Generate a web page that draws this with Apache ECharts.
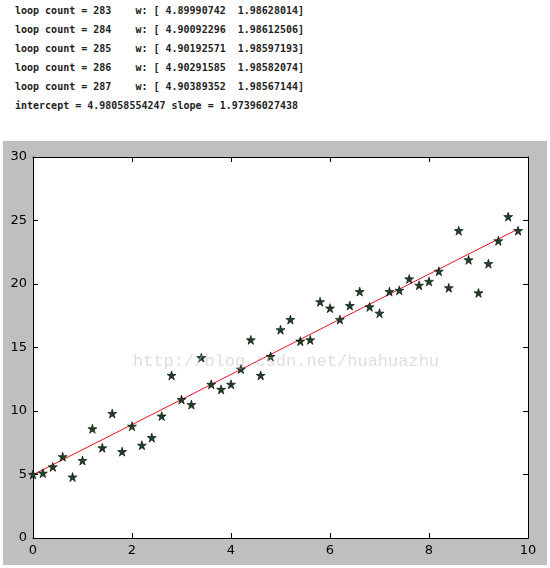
<!DOCTYPE html>
<html>
<head>
<meta charset="utf-8">
<script src="https://cdn.jsdelivr.net/npm/echarts@6/dist/echarts.min.js"></script>
<style>
  body { margin: 0; background: #fff; width: 550px; height: 568px; position: relative; overflow: hidden; }
  #log { position: absolute; left: 15px; top: 1px; font-family: "DejaVu Sans Mono", monospace; font-size: 10px; font-weight: bold; color: #222; line-height: 19px; white-space: pre; }
  #chart { position: absolute; left: 3px; top: 141px; width: 544px; height: 424px; }
</style>
</head>
<body>
<div id="log"></div>
<div id="chart"></div>
<script>
// 控制台输出
var logLines = [
    "loop count = 283    w: [ 4.89990742  1.98628014]",
    "loop count = 284    w: [ 4.90092296  1.98612506]",
    "loop count = 285    w: [ 4.90192571  1.98597193]",
    "loop count = 286    w: [ 4.90291585  1.98582074]",
    "loop count = 287    w: [ 4.90389352  1.98567144]",
    "intercept = 4.98058554247 slope = 1.97396027438"
];

// 散点数据
var xValues = [0, 0.2, 0.4, 0.6, 0.8, 1.0, 1.2, 1.4, 1.6, 1.8,
               2.0, 2.2, 2.4, 2.6, 2.8, 3.0, 3.2, 3.4, 3.6, 3.8,
               4.0, 4.2, 4.4, 4.6, 4.8, 5.0, 5.2, 5.4, 5.6, 5.8,
               6.0, 6.2, 6.4, 6.6, 6.8, 7.0, 7.2, 7.4, 7.6, 7.8,
               8.0, 8.2, 8.4, 8.6, 8.8, 9.0, 9.2, 9.4, 9.6, 9.8];
var yValues = [5.0, 5.1, 5.6, 6.4, 4.8, 6.1, 8.6, 7.1, 9.8, 6.8,
               8.8, 7.3, 7.9, 9.6, 12.8, 10.9, 10.5, 14.2, 12.1, 11.7,
               12.1, 13.3, 15.6, 12.8, 14.3, 16.4, 17.2, 15.5, 15.6, 18.6,
               18.1, 17.2, 18.3, 19.4, 18.2, 17.7, 19.4, 19.5, 20.4, 19.9,
               20.2, 21.0, 19.7, 24.2, 21.9, 19.3, 21.6, 23.4, 25.3, 24.2];

// 拟合直线端点
var lineX = [0, 9.8];
var lineY = [4.98, 24.33];

var xTicks = [0, 2, 4, 6, 8, 10];
var yTicks = [0, 5, 10, 15, 20, 25, 30];

document.getElementById("log").textContent = logLines.join("\n");

var points = xValues.map(function(x, i) { return [x, yValues[i]]; });
var fitLine = lineX.map(function(x, i) { return [x, lineY[i]]; });

function axis(pos, ticks, showLabel) {
    return {
        type: "value", position: pos,
        min: ticks[0], max: ticks[ticks.length - 1], interval: ticks[1] - ticks[0],
        axisLine: { show: true, onZero: false, lineStyle: { color: "#000", width: 1 } },
        axisTick: { show: true, inside: true, length: 5, lineStyle: { color: "#000" } },
        axisLabel: { show: showLabel, color: "#000", fontFamily: "DejaVu Sans", fontSize: 13, margin: 6 },
        splitLine: { show: false }
    };
}

var chart = echarts.init(document.getElementById("chart"));
chart.setOption({
    backgroundColor: "#bfbfbf",
    animation: false,
    grid: { left: 30, top: 16, right: 19, bottom: 27, show: true, backgroundColor: "#fff", borderWidth: 0 },
    xAxis: [axis("bottom", xTicks, true), axis("top", xTicks, false)],
    yAxis: [axis("left", yTicks, true), axis("right", yTicks, false)],
    graphic: [{
        type: "text", left: 130, top: 212, silent: true, z: 10,
        style: { text: "http://blog.csdn.net/huahuazhu", fill: "rgba(190,190,190,0.5)", font: "17px 'Liberation Mono', monospace" }
    }],
    series: [
        {
            type: "line", data: fitLine, symbol: "none",
            lineStyle: { color: "#e8141e", width: 1 }, z: 3
        },
        {
            type: "scatter", data: points,
            symbol: "path://M50,0 L61.8,36.2 L100,36.2 L69.1,58.8 L80.9,95.1 L50,72.7 L19.1,95.1 L30.9,58.8 L0,36.2 L38.2,36.2 Z",
            symbolSize: 9,
            itemStyle: { color: "#1d4424", opacity: 1, borderColor: "#000", borderWidth: 0.6 }, z: 4
        }
    ]
});
</script>
</body>
</html>
